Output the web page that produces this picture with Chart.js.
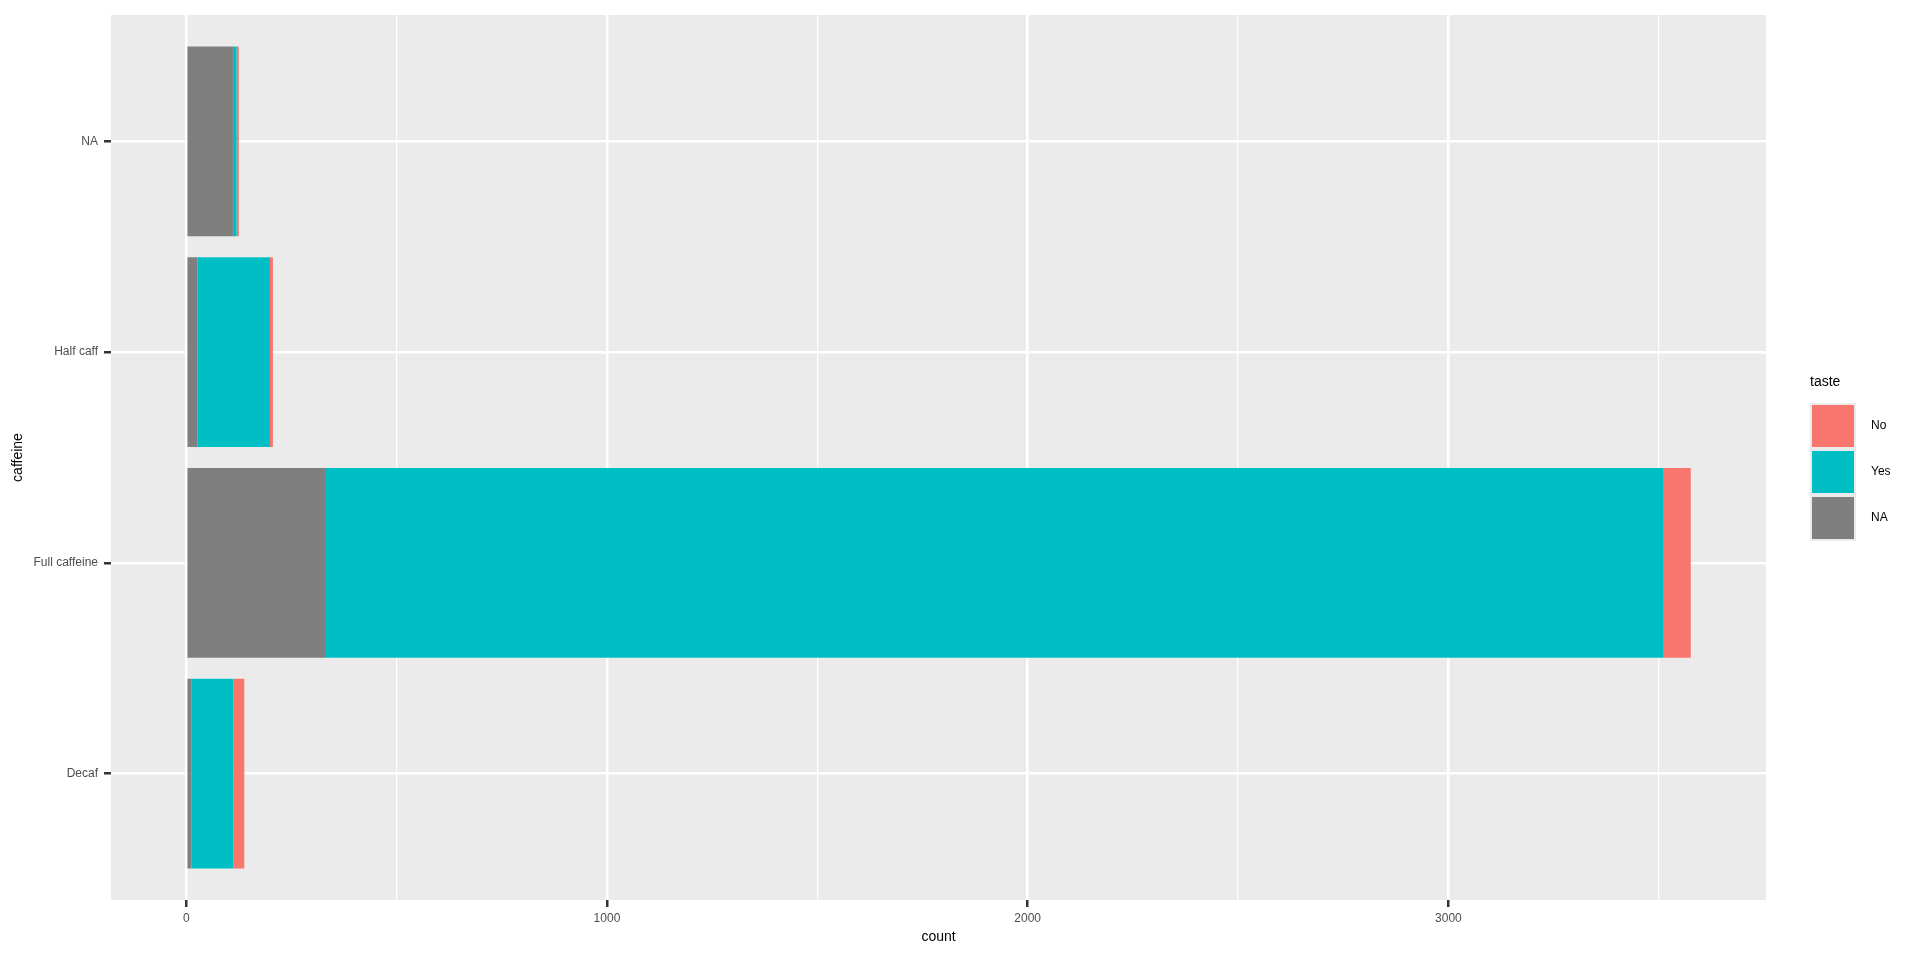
<!DOCTYPE html>
<html>
<head>
<meta charset="utf-8">
<title>caffeine by taste</title>
<script src="https://cdn.jsdelivr.net/npm/chart.js@4.4.1/dist/chart.umd.min.js"></script>
<style>
  html, body { margin: 0; padding: 0; background: #ffffff; }
  canvas { display: block; }
</style>
</head>
<body>
<canvas id="myChart" width="1920" height="960"></canvas>
<script>
// caffeine categories, top to bottom
const categories = ["NA", "Half caff", "Full caffeine", "Decaf"];

// counts per taste answer
const naCounts = [111, 27, 332, 12];
const yesCounts = [9, 172, 3178, 100];
const noCounts = [5, 7, 66, 26];

// x axis ticks
const majorTicks = [0, 1000, 2000, 3000];
const minorTicks = [500, 1500, 2500, 3500];

const legendLabels = ["No", "Yes", "NA"];
const legendColors = ["#F8766D", "#00BFC4", "#7F7F7F"];

const FONT = "'Liberation Sans', Arial, sans-serif";

// ggplot-ish grey panel
const panelBackground = {
  id: "panelBackground",
  beforeDraw(chart) {
    const { ctx, chartArea } = chart;
    ctx.save();
    ctx.fillStyle = "#EBEBEB";
    ctx.fillRect(chartArea.left, chartArea.top, chartArea.right - chartArea.left, chartArea.bottom - chartArea.top);
    ctx.restore();
  }
};

// legend on the right, drawn by hand to keep ggplot order
const tasteLegend = {
  id: "tasteLegend",
  afterDraw(chart) {
    const ctx = chart.ctx;
    const x = 1810, top = 403, keyH = 46, keyW = 46;
    ctx.save();
    ctx.fillStyle = "#000000";
    ctx.font = "14px " + FONT;
    ctx.textBaseline = "middle";
    ctx.fillText("taste", x, 382);
    ctx.fillStyle = "#EBEBEB";
    ctx.fillRect(x, top, keyW, keyH * legendLabels.length);
    legendLabels.forEach((lab, i) => {
      ctx.fillStyle = legendColors[i];
      ctx.fillRect(x + 2, top + i * keyH + 2, keyW - 4, keyH - 4);
      ctx.fillStyle = "#000000";
      ctx.font = "12px " + FONT;
      ctx.fillText(lab, x + 61, top + i * keyH + keyH / 2);
    });
    ctx.restore();
  }
};

const isMajor = (v) => majorTicks.includes(v);

const ctx = document.getElementById("myChart").getContext("2d");

new Chart(ctx, {
  type: "bar",
  data: {
    labels: categories,
    datasets: [
      { label: "NA", data: naCounts, backgroundColor: legendColors[2] },
      { label: "Yes", data: yesCounts, backgroundColor: legendColors[1] },
      { label: "No", data: noCounts, backgroundColor: legendColors[0] }
    ]
  },
  options: {
    indexAxis: "y",
    responsive: false,
    animation: false,
    layout: {
      padding: { top: 15, left: 0, right: 154, bottom: 0 }
    },
    datasets: {
      bar: {
        categoryPercentage: 1,
        barPercentage: 0.9,
        borderWidth: 0
      }
    },
    scales: {
      x: {
        stacked: true,
        min: -178.8,
        max: 3754.8,
        afterBuildTicks(scale) {
          scale.ticks = majorTicks.concat(minorTicks).sort((a, b) => a - b).map(v => ({ value: v }));
        },
        afterFit(scale) {
          scale.height = 60;
        },
        border: { display: false },
        grid: {
          color: "#FFFFFF",
          lineWidth: (c) => isMajor(c.tick.value) ? 2.5 : 1.2,
          tickColor: (c) => isMajor(c.tick.value) ? "#333333" : "rgba(0,0,0,0)",
          tickWidth: 2.5,
          tickLength: 7
        },
        ticks: {
          padding: 4,
          color: "#4D4D4D",
          font: { family: FONT, size: 12 },
          maxRotation: 0,
          autoSkip: false,
          callback: (v) => isMajor(v) ? String(v) : ""
        },
        title: {
          display: true,
          text: "count",
          color: "#000000",
          font: { family: FONT, size: 14 },
          padding: { top: 0, bottom: 14 }
        }
      },
      y: {
        stacked: true,
        offset: false,
        // ggplot discrete expansion: 0.6 of a category on each end
        afterBuildTicks(scale) {
          scale._startValue = -0.6;
          scale._valueRange = categories.length - 1 + 1.2;
        },
        afterFit(scale) {
          scale.width = 111;
        },
        border: { display: false },
        grid: {
          offset: false,
          color: "#FFFFFF",
          lineWidth: 2.5,
          tickColor: "#333333",
          tickWidth: 2.5,
          tickLength: 7
        },
        ticks: {
          padding: 6,
          color: "#4D4D4D",
          font: { family: FONT, size: 12 }
        },
        title: {
          display: true,
          text: "caffeine",
          color: "#000000",
          font: { family: FONT, size: 14 },
          padding: { top: 10, bottom: 0 }
        }
      }
    },
    plugins: {
      legend: { display: false },
      tooltip: { enabled: false }
    }
  },
  plugins: [panelBackground, tasteLegend]
});
</script>
</body>
</html>
